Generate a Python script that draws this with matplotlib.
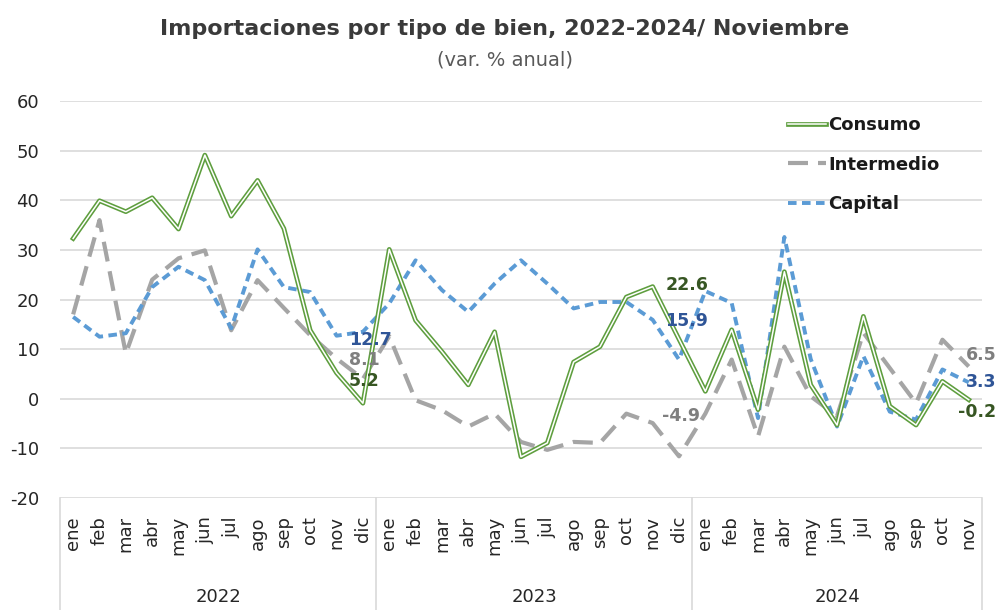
import matplotlib
matplotlib.use("Agg")
import matplotlib.pyplot as plt
import matplotlib.patheffects as pe

plt.rcParams["axes.unicode_minus"] = False

# data (var. % anual), ene 2022 - nov 2024
months = ["ene", "feb", "mar", "abr", "may", "jun", "jul", "ago", "sep", "oct", "nov", "dic"]
years = ["2022", "2023", "2024"]
month_labels = months * 2 + months[:11]

consumo = [32.3, 39.9, 37.7, 40.5, 34.2, 49.1, 36.8, 44.0, 34.3, 13.8, 5.2, -0.9,
           30.1, 15.8, 9.5, 2.8, 13.5, -11.7, -8.9, 7.4, 10.5, 20.5, 22.6, 12.0,
           1.5, 13.9, -2.2, 25.6, 2.8, -5.3, 16.6, -1.5, -5.3, 3.5, -0.2]
intermedio = [17.0, 36.0, 9.1, 24.0, 28.3, 29.9, 13.8, 23.9, 18.3, 12.8, 8.1, 4.0,
              12.6, -0.3, -2.3, -5.6, -3.0, -8.7, -10.3, -8.7, -8.9, -3.0, -4.9, -11.6,
              -3.0, 7.9, -7.6, 10.5, 0.5, -3.5, 13.3, 6.2, -0.9, 11.9, 6.5]
capital = [16.5, 12.5, 13.2, 22.5, 26.6, 23.9, 14.2, 30.1, 22.5, 21.5, 12.7, 13.5,
           19.2, 27.9, 21.9, 17.5, 23.2, 27.9, 23.2, 18.2, 19.5, 19.5, 15.9, 7.9,
           21.7, 19.3, -3.9, 32.6, 8.0, -5.6, 8.6, -2.6, -4.2, 5.9, 3.3]

# labelled points (each november)
nov_idx = [10, 22, 34]

green = "#5E9E3E"
gray = "#A5A5A5"
blue = "#5B9BD5"
grid_c = "#D9D9D9"

fig = plt.figure(figsize=(9.98, 6.10), dpi=100)
ax = fig.add_axes([0.0601, 0.1836, 0.9238, 0.6508])

x = list(range(len(consumo)))

ax.plot(x, consumo, color="white", lw=1.1, label="Consumo", zorder=4,
        path_effects=[pe.Stroke(linewidth=3.4, foreground=green), pe.Normal()])
ax.plot(x, intermedio, color=gray, lw=3.0, linestyle=(0, (4.8, 2.4)),
        label="Intermedio", zorder=2)
ax.plot(x, capital, color=blue, lw=2.8, linestyle=(0, (2.2, 1.4)),
        label="Capital", zorder=3)

ax.set_xlim(-0.5, len(x) - 0.5)
ax.set_ylim(-20, 60)
ax.set_yticks(range(-20, 61, 10))
ax.grid(axis="y", color=grid_c, lw=1.2)
ax.set_axisbelow(True)
for s in ax.spines.values():
    s.set_visible(False)

ax.set_xticks(x)
ax.set_xticklabels(month_labels, rotation=90, fontsize=13, color="#262626")
ax.tick_params(axis="x", length=0, pad=13)
ax.tick_params(axis="y", length=0, pad=15, labelsize=13, labelcolor="#262626")

# year groups and separators below the axis
tr = ax.get_xaxis_transform()
for b in [-0.5, 11.5, 23.5, len(x) - 0.5]:
    ax.plot([b, b], [0, -0.29], transform=tr, color=grid_c, lw=1.2, clip_on=False)
for i, yr in enumerate(years):
    start = i * 12 - 0.5
    end = min(start + 12, len(x) - 0.5)
    ax.text((start + end) / 2, -0.249, yr, transform=tr, ha="center", va="center",
            fontsize=13, color="#262626")

# data labels
lab_font = dict(fontsize=12.5, fontweight="bold")
offsets = {
    "c": [(9, -6), (9, 1), (-8, -9)],
    "i": [(9, -1), (7, 5), (-2, 8)],
    "k": [(9, -3), (9, -1), (-2, 0)],
}
for j, k in enumerate(nov_idx):
    for key, ser, col in [("c", consumo, "#375623"), ("i", intermedio, "#7F7F7F"),
                          ("k", capital, "#2F5597")]:
        ax.annotate(f"{ser[k]:.1f}", xy=(k, ser[k]), xytext=offsets[key][j],
                    textcoords="offset points", ha="left", va="center", color=col,
                    zorder=6, annotation_clip=False, **lab_font)

leg = ax.legend(loc="upper left", bbox_to_anchor=(0.78, 0.985), frameon=False,
                handlelength=2.1, handletextpad=0.12, labelspacing=1.2,
                borderpad=0, prop=dict(size=13, weight="bold"))
for t in leg.get_texts():
    t.set_color("#1a1a1a")

fig.text(0.506, 0.953, "Importaciones por tipo de bien, 2022-2024/ Noviembre",
         ha="center", va="center", fontsize=16, fontweight="bold", color="#3a3a3a")
fig.text(0.506, 0.902, "(var. % anual)", ha="center", va="center",
         fontsize=14, color="#595959")

fig.savefig("out.png", dpi=100)
